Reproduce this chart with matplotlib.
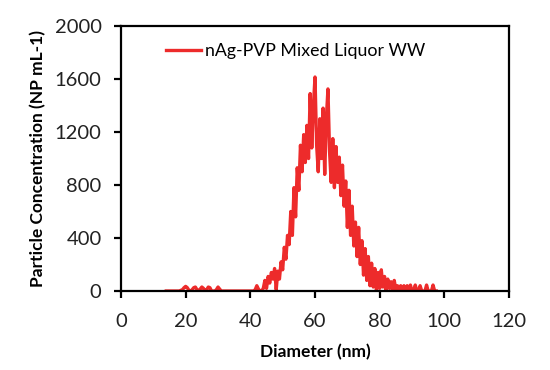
import numpy as np
import matplotlib
matplotlib.use('Agg')
import matplotlib.pyplot as plt

plt.rcParams['font.family'] = ['Lato', 'DejaVu Sans']

# particle size distribution, 0.5 nm bins starting at 14 nm
diameter_start = 14.0
diameter_step = 0.5
concentration = [
    0, 0, 0, 0, 0, 0, 0, 0, 0, 5,                              # 14.0 - 18.5
    10, 25, 35, 25, 5, 0, 10, 25, 30, 10,                      # 19.0 - 23.5
    0, 15, 30, 20, 0, 10, 30, 25, 0, 0,                        # 24.0 - 28.5
    0, 10, 30, 15, 0, 0, 0, 0, 0, 0,                           # 29.0 - 33.5
    0, 0, 0, 0, 0, 0, 0, 0, 0, 0,                              # 34.0 - 38.5
    0, 0, 0, 0, 0, 10, 40, 15, 0, 0,                           # 39.0 - 43.5
    20, 80, 20, 110, 60, 140, 90, 170, 10, 150,                # 44.0 - 48.5
    90, 220, 160, 330, 240, 420, 350, 600, 420, 780,           # 49.0 - 53.5
    560, 930, 760, 1100, 900, 1180, 970, 1250, 1000, 1490,     # 54.0 - 58.5
    1080, 1400, 1615, 1100, 900, 1300, 1000, 1380, 880, 1300,  # 59.0 - 63.5
    1525, 1050, 820, 1150, 780, 1090, 820, 1010, 720, 950,     # 64.0 - 68.5
    640, 830, 480, 760, 420, 640, 340, 520, 260, 480,          # 69.0 - 73.5
    200, 380, 120, 320, 80, 260, 40, 210, 30, 170,             # 74.0 - 78.5
    0, 140, 20, 160, 30, 110, 0, 90, 20, 70,                   # 79.0 - 83.5
    0, 80, 10, 40, 0, 40, 0, 40, 0, 40,                        # 84.0 - 88.5
    0, 45, 0, 0, 45, 0, 0, 40, 0, 0,                           # 89.0 - 93.5
    0, 45, 0, 0, 0, 45, 0, 0,                                  # 94.0 - 97.5
]
diameter = diameter_start + diameter_step * np.arange(len(concentration))

fig = plt.figure(figsize=(5.5, 3.7), dpi=100)
ax = fig.add_axes([0.22, 0.2135, 0.7055, 0.7162])

ax.plot(diameter, concentration, color='#ED2B2B', linewidth=2.4,
        label='nAg-PVP Mixed Liquor WW')

ax.set_xlim(0, 120)
ax.set_ylim(0, 2000)
ax.set_xticks(range(0, 121, 20))
ax.set_yticks(range(0, 2001, 400))

for s in ax.spines.values():
    s.set_linewidth(1.6)
    s.set_color('black')
ax.tick_params(direction='out', length=5, width=1.6, labelsize=14.5,
               colors='black', labelcolor='#222222')
ax.tick_params(axis='x', pad=11)
ax.tick_params(axis='y', pad=9)

ax.set_xlabel('Diameter (nm)', fontsize=12.5, fontweight='bold', labelpad=10)
ax.set_ylabel('Particle Concentration (NP mL-1)', fontsize=12.5,
              fontweight='bold', labelpad=6)

ax.legend(loc='upper center', bbox_to_anchor=(0.45, 0.995), frameon=False,
          fontsize=12.8, handlelength=2.0, handletextpad=0.2)

fig.savefig('out.png', dpi=100)
